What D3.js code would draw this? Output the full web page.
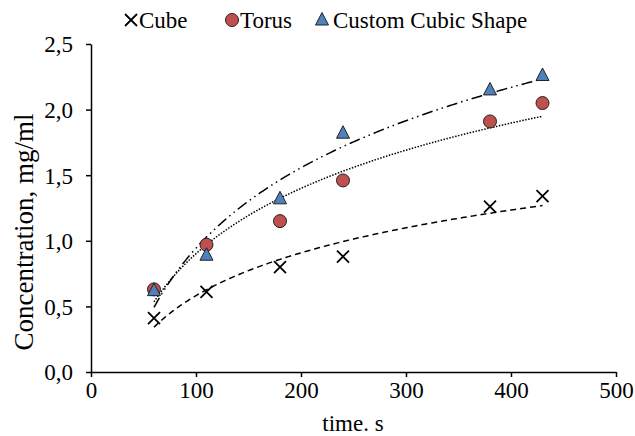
<!DOCTYPE html>
<html><head><meta charset="utf-8">
<script src="https://cdn.jsdelivr.net/npm/d3@7"></script>
<style>body{margin:0;background:#fff}svg{display:block}text{font-family:"Liberation Serif","Times New Roman",serif;fill:#000}</style>
</head><body>
<svg id="c" width="635" height="436"></svg>
<script>
const times = [60, 110, 180, 240, 380, 430];
const cube = [0.41, 0.61, 0.80, 0.88, 1.26, 1.34];
const torus = [0.63, 0.97, 1.15, 1.46, 1.91, 2.05];
const custom = [0.62, 0.89, 1.32, 1.82, 2.15, 2.26];
const xTicks = [0, 100, 200, 300, 400, 500];
const yTicks = [0, 0.5, 1.0, 1.5, 2.0, 2.5];
const seriesNames = ["Cube", "Torus", "Custom Cubic Shape"];

const FS = 23;
const svg = d3.select("#c");
const x = d3.scaleLinear().domain([0, 500]).range([91, 616]);
const y = d3.scaleLinear().domain([0, 2.5]).range([372, 44]);
const fmt = v => d3.format(".1f")(v).replace(".", ",");

// axes
const xAxis = svg.append("g").attr("transform", "translate(0,372)")
  .call(d3.axisBottom(x).tickValues(xTicks).tickSize(5).tickSizeOuter(0));
const yAxis = svg.append("g").attr("transform", "translate(91,0)")
  .call(d3.axisLeft(y).tickValues(yTicks).tickSize(5).tickSizeOuter(0).tickFormat(fmt));
[xAxis, yAxis].forEach(g => {
  g.attr("font-size", FS).attr("font-family", "Liberation Serif");
  g.select(".domain").attr("stroke", "#000").attr("stroke-width", 1.5);
  g.selectAll(".tick line").attr("stroke", "#000").attr("stroke-width", 1.5);
  g.selectAll("text").attr("font-size", FS).attr("font-family", "Liberation Serif").attr("fill", "#000");
});
xAxis.selectAll("text").attr("y", 26).attr("dy", 0);
yAxis.selectAll("text").attr("x", -18).attr("dy", "0.34em");

svg.append("text").attr("x", 353).attr("y", 431).attr("text-anchor", "middle").attr("font-size", FS).text("time. s");
svg.append("text").attr("transform", "translate(33,232) rotate(-90)").attr("text-anchor", "middle").attr("font-size", 27).text("Concentration, mg/ml");

// logarithmic trendlines (least squares fit of y = a ln x + b)
function logFit(xs, ys) {
  const lx = xs.map(Math.log);
  const mx = d3.mean(lx), my = d3.mean(ys);
  let sxy = 0, sxx = 0;
  lx.forEach((v, i) => { sxy += (v - mx) * (ys[i] - my); sxx += (v - mx) * (v - mx); });
  const a = sxy / sxx, b = my - a * mx;
  return t => a * Math.log(t) + b;
}
const dashes = ["6,4", "1.5,1.5", "11,4,1.5,4,1.5,4"];
[cube, torus, custom].forEach((ys, k) => {
  const f = logFit(times, ys);
  const pts = d3.range(times[0], times[times.length - 1] + 0.1, 2).map(t => [t, f(t)]);
  svg.append("path").attr("d", d3.line().x(d => x(d[0])).y(d => y(d[1]))(pts))
    .attr("fill", "none").attr("stroke", "#000").attr("stroke-width", 1.5)
    .attr("stroke-dasharray", dashes[k]);
});

// markers
function cross(g, cx, cy) {
  const s = 6;
  g.append("path").attr("d", `M${cx - s},${cy - s}L${cx + s},${cy + s}M${cx - s},${cy + s}L${cx + s},${cy - s}`)
    .attr("stroke", "#000").attr("stroke-width", 1.8).attr("fill", "none");
}
function circ(g, cx, cy) {
  g.append("circle").attr("cx", cx).attr("cy", cy).attr("r", 6.5)
    .attr("fill", "#C0504D").attr("stroke", "#222").attr("stroke-width", 1);
}
function tri(g, cx, cy) {
  g.append("path").attr("d", `M${cx},${cy - 7.5}L${cx + 6.5},${cy + 5}L${cx - 6.5},${cy + 5}Z`)
    .attr("fill", "#4F81BD").attr("stroke", "#222").attr("stroke-width", 1);
}
const markers = [cross, circ, tri];
const mg = svg.append("g");
[cube, torus, custom].forEach((ys, k) => {
  ys.forEach((v, i) => markers[k](mg, x(times[i]), y(v)));
});

// legend
const lg = svg.append("g");
const legPos = [[131, 139], [232, 240], [322, 333]];
seriesNames.forEach((n, k) => {
  markers[k](lg, legPos[k][0], 20);
  lg.append("text").attr("x", legPos[k][1]).attr("y", 28).attr("font-size", FS).text(n);
});
</script>
</body></html>
